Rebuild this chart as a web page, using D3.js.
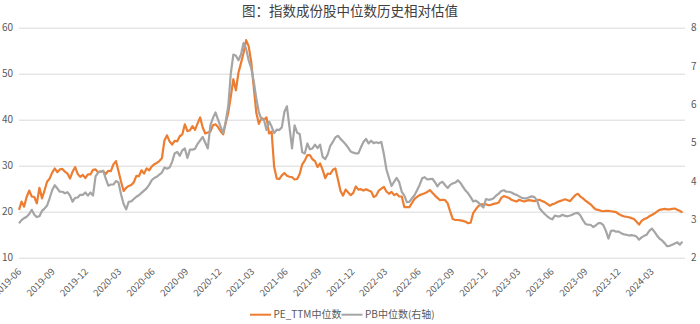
<!DOCTYPE html>
<html>
<head>
<meta charset="utf-8">
<script src="https://cdn.jsdelivr.net/npm/d3@7"></script>
<style>
  html, body { margin: 0; padding: 0; background: #ffffff; }
  svg { display: block; font-family: "Noto Sans CJK SC", "Noto Sans", sans-serif; }
</style>
</head>
<body>
<svg id="chart" width="700" height="324"></svg>
<script>
// ---------------- data ----------------
const chartTitle = "图：指数成份股中位数历史相对估值";
const seriesNames = ["PE_TTM中位数", "PB中位数(右轴)"];
const firstWeek = "2019-06-01";           // weekly observations start here
const axisStart = "2019-06-01";
const axisEnd = "2024-06-01";

// PE_TTM median (left axis), one value per week, 13 weeks per row
const peValues = [
  20.4,22.2,21.1,23.2,24.6,23.3,23.2,21.8,25.2,22.9,24.6,26.5,27.2,
  28.5,29.4,28.6,29.2,29.3,28.7,28.3,27.2,28.7,29.7,28.2,27.6,28.0,
  27.3,28.1,28.1,29.1,29.2,28.6,28.7,28.8,28.2,28.9,28.8,30.3,31.0,
  28.8,26.5,24.5,25.2,25.6,25.8,26.4,27.8,27.7,29.0,28.3,29.4,29.0,
  29.8,30.3,30.6,31.0,31.6,35.5,36.6,35.3,34.6,35.4,35.3,36.4,36.8,
  39.0,37.5,37.7,38.6,37.8,39.2,40.5,38.3,37.0,37.2,37.4,38.8,39.0,
  38.4,37.5,36.8,39.3,41.5,45.0,48.8,46.4,50.2,52.3,54.5,57.3,56.0,
  52.6,47.1,41.5,39.1,40.4,40.0,40.5,37.0,37.4,29.7,27.2,27.1,27.9,
  28.4,27.8,27.6,27.5,27.0,27.1,28.2,30.3,31.1,32.3,32.3,31.4,31.0,
  29.7,30.5,29.1,27.3,28.3,28.2,29.1,29.4,27.0,24.5,23.5,24.8,24.2,
  23.6,24.1,25.5,24.8,24.9,24.6,24.9,24.6,24.4,23.2,23.5,24.6,25.0,
  25.4,24.4,23.9,24.3,23.6,23.9,23.3,23.3,21.0,21.0,21.0,21.9,22.8,
  23.2,23.6,23.8,24.0,24.3,24.7,24.1,23.5,23.0,22.5,22.6,22.5,21.8,
  20.0,18.4,18.2,18.2,18.1,18.0,17.8,17.5,17.6,19.7,20.5,21.2,21.6,
  21.6,21.6,21.4,21.5,21.7,21.8,22.0,23.0,23.4,23.2,23.0,22.6,22.4,
  22.2,22.6,22.4,22.2,22.4,22.5,22.4,22.3,22.5,22.6,22.3,22.1,21.7,
  21.3,21.6,21.8,22.1,22.3,22.5,22.7,22.5,22.3,23.0,23.6,23.9,23.3,
  22.9,22.4,22.0,21.6,21.0,20.5,20.4,20.2,20.1,20.2,20.2,20.1,20.0,
  19.9,19.5,19.2,19.0,18.9,18.8,18.6,18.4,17.8,17.2,18.0,18.4,18.6,
  19.0,19.3,19.6,20.0,20.4,20.5,20.6,20.5,20.5,20.6,20.7,20.4,20.2,
  19.8
];

// PB median (right axis), one value per week, 13 weeks per row
const pbValues = [
  2.90,2.98,3.03,3.07,3.14,3.25,3.12,3.06,3.08,3.22,3.28,3.36,3.55,
  3.76,3.89,3.81,3.72,3.72,3.68,3.71,3.62,3.46,3.56,3.57,3.64,3.64,
  3.70,3.62,3.70,3.62,4.12,4.22,4.25,4.27,4.06,3.88,3.91,3.91,4.00,
  3.96,3.65,3.40,3.26,3.46,3.47,3.53,3.59,3.63,3.69,3.75,3.81,3.90,
  4.02,4.08,4.11,4.17,4.22,4.35,4.32,4.35,4.50,4.72,4.76,4.66,4.80,
  4.85,4.60,4.82,4.82,4.84,4.97,5.06,5.15,5.00,4.85,5.45,5.64,5.79,
  5.60,5.42,5.25,5.55,5.95,6.80,7.30,7.27,7.15,7.30,7.60,7.45,7.15,
  6.95,6.60,6.15,5.80,5.60,5.60,5.33,5.55,5.42,5.25,5.34,5.33,5.40,
  5.80,5.95,5.40,4.85,5.45,5.26,5.23,4.75,4.72,4.98,4.83,4.85,4.95,
  4.86,4.95,4.63,4.57,4.70,4.92,5.02,5.14,5.18,5.10,5.03,4.96,4.87,
  4.77,4.74,4.72,4.72,4.88,5.02,5.10,4.98,5.05,4.99,5.01,4.99,5.02,
  4.70,4.30,4.08,3.87,3.98,4.08,3.97,3.72,3.62,3.45,3.46,3.55,3.63,
  3.76,3.90,4.07,4.10,4.04,4.05,4.06,3.97,3.86,3.95,3.98,3.89,3.82,
  3.90,3.94,3.96,4.02,3.95,3.85,3.75,3.68,3.58,3.47,3.49,3.44,3.37,
  3.31,3.53,3.51,3.52,3.55,3.62,3.67,3.74,3.76,3.72,3.72,3.70,3.66,
  3.64,3.60,3.56,3.55,3.55,3.58,3.60,3.58,3.50,3.29,3.21,3.14,3.08,
  3.03,3.00,3.10,3.08,3.08,3.12,3.09,3.08,3.10,3.13,3.16,3.17,3.10,
  2.98,2.88,2.86,2.86,2.80,2.84,2.90,2.90,2.85,2.70,2.50,2.70,2.71,
  2.68,2.68,2.64,2.61,2.60,2.58,2.59,2.58,2.55,2.47,2.53,2.57,2.60,
  2.70,2.76,2.68,2.58,2.50,2.45,2.38,2.30,2.31,2.34,2.37,2.40,2.34,
  2.42
];

const leftTicks = [10, 20, 30, 40, 50, 60];
const rightTicks = [2, 3, 4, 5, 6, 7, 8];
const xTickLabels = [
  "2019-06","2019-09","2019-12","2020-03","2020-06","2020-09","2020-12",
  "2021-03","2021-06","2021-09","2021-12","2022-03","2022-06","2022-09",
  "2022-12","2023-03","2023-06","2023-09","2023-12","2024-03"
];

// ---------------- drawing ----------------
const parseDay = d3.timeParse("%Y-%m-%d");
const parseMonth = d3.timeParse("%Y-%m");
const start = parseDay(firstWeek);
const weekDates = peValues.map((_, i) => d3.timeDay.offset(start, 7 * i));
const tickDates = xTickLabels.map(parseMonth);

const plot = { left: 19, right: 685, top: 27.7, bottom: 257.7 };

const x = d3.scaleTime()
  .domain([parseDay(axisStart), parseDay(axisEnd)])
  .range([plot.left, plot.right]);
const yL = d3.scaleLinear().domain([10, 60]).range([plot.bottom, plot.top]);
const yR = d3.scaleLinear().domain([2, 8]).range([plot.bottom, plot.top]);

const colors = ["#ED7D31", "#A5A5A5"];
const labelColor = "#595959";
const fontStack = '"Noto Sans CJK SC", "Noto Sans", sans-serif';
const intFmt = d3.format("d");

const svg = d3.select("#chart");

// title
svg.append("text")
  .attr("x", 350).attr("y", 16)
  .attr("text-anchor", "middle")
  .attr("font-size", 13.5)
  .attr("fill", "#404040")
  .text(chartTitle);

// gridlines (left axis)
const grid = svg.append("g")
  .attr("transform", `translate(${plot.left},0)`)
  .call(d3.axisLeft(yL).tickValues(leftTicks).tickSize(-(plot.right - plot.left)).tickFormat(""));
grid.select(".domain").remove();
grid.selectAll("line").attr("stroke", "#D9D9D9").attr("stroke-width", 1);

// left axis labels
const gL = svg.append("g")
  .attr("transform", `translate(${plot.left},0)`)
  .call(d3.axisLeft(yL).tickValues(leftTicks).tickFormat(intFmt).tickSize(0).tickPadding(6));
gL.select(".domain").remove();
gL.selectAll("text").attr("fill", labelColor).attr("font-size", 10).attr("font-family", fontStack);

// right axis labels
const gR = svg.append("g")
  .attr("transform", `translate(${plot.right},0)`)
  .call(d3.axisRight(yR).tickValues(rightTicks).tickFormat(intFmt).tickSize(0).tickPadding(6));
gR.select(".domain").remove();
gR.selectAll("text").attr("fill", labelColor).attr("font-size", 10).attr("font-family", fontStack);

// bottom axis labels (rotated)
const gB = svg.append("g")
  .attr("transform", `translate(0,${plot.bottom})`)
  .call(d3.axisBottom(x).tickValues(tickDates).tickSize(0).tickFormat(d3.timeFormat("%Y-%m")));
gB.select(".domain").remove();
gB.selectAll("text")
  .attr("fill", labelColor)
  .attr("font-size", 9.5)
  .attr("font-family", fontStack)
  .attr("y", 0).attr("dy", 0)
  .attr("text-anchor", "end")
  .attr("transform", "translate(2.5,14.5) rotate(-45)");

// lines
const linePE = d3.line().x((d, i) => x(weekDates[i])).y(d => yL(d));
const linePB = d3.line().x((d, i) => x(weekDates[i])).y(d => yR(d));

svg.append("path").datum(peValues)
  .attr("d", linePE).attr("fill", "none")
  .attr("stroke", colors[0]).attr("stroke-width", 2.2)
  .attr("stroke-linejoin", "round");
svg.append("path").datum(pbValues)
  .attr("d", linePB).attr("fill", "none")
  .attr("stroke", colors[1]).attr("stroke-width", 2.2)
  .attr("stroke-linejoin", "round");

// legend
const legendItems = [
  { name: seriesNames[0], color: colors[0], x: 250 },
  { name: seriesNames[1], color: colors[1], x: 341.5 }
];
const lg = svg.append("g");
legendItems.forEach(item => {
  lg.append("line")
    .attr("x1", item.x).attr("x2", item.x + 21)
    .attr("y1", 314.7).attr("y2", 314.7)
    .attr("stroke", item.color).attr("stroke-width", 2);
  lg.append("text")
    .attr("x", item.x + 23.5).attr("y", 318.3)
    .attr("font-size", 10).attr("fill", labelColor)
    .text(item.name);
});
</script>
</body>
</html>
